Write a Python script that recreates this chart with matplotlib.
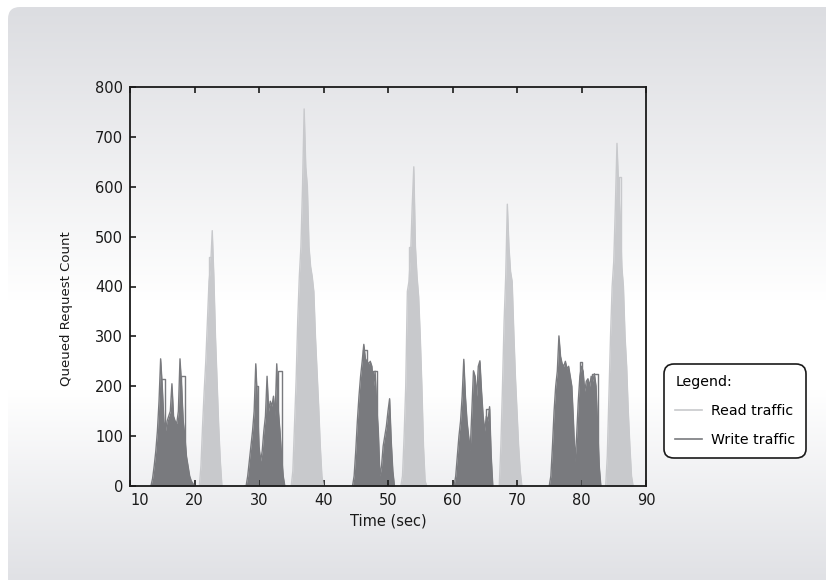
import numpy as np
import matplotlib
matplotlib.use("Agg")
from matplotlib import pyplot as plt
from matplotlib.patches import FancyBboxPatch
from matplotlib.lines import Line2D

# queued requests, sampled every 0.25 s inside each burst
bin_width = 0.25

read_start = [20.75, 35.0, 52.0, 67.25, 83.75]
read_queue = [
    [0, 40, 120, 190, 250, 330, 410, 440, 512, 420, 300, 210, 120, 50, 0],
    [0, 30, 120, 210, 330, 420, 480, 600, 756, 640, 600, 480, 440, 420, 390, 300, 230, 160, 80, 20, 0],
    [0, 20, 100, 200, 390, 410, 460, 560, 640, 480, 420, 380, 300, 200, 80, 10, 0],
    [0, 80, 200, 330, 420, 565, 480, 430, 410, 310, 220, 150, 80, 30, 0],
    [0, 60, 180, 300, 400, 450, 560, 687, 600, 540, 440, 400, 300, 240, 150, 80, 20, 0],
]

write_start = [13.25, 27.75, 44.5, 60.25, 75.0]
write_queue = [
    [0, 15, 40, 70, 110, 170, 255, 200, 130, 110, 130, 140, 150, 205, 140, 130, 125, 150, 255, 200,
     130, 100, 60, 40, 20, 10, 5, 0],
    [0, 0, 20, 50, 80, 110, 150, 245, 170, 80, 50, 70, 110, 140, 220, 150, 170, 160, 180, 140,
     245, 150, 110, 60, 20, 0],
    [0, 20, 70, 130, 180, 220, 250, 284, 255, 250, 245, 250, 240, 200, 230, 160, 110, 20, 40, 80,
     100, 120, 150, 175, 90, 30, 0],
    [0, 20, 60, 100, 130, 180, 254, 180, 130, 100, 72, 150, 231, 220, 180, 240, 251, 190, 140, 110,
     140, 130, 159, 60, 0],
    [0, 20, 80, 150, 200, 230, 301, 260, 245, 240, 250, 235, 240, 220, 200, 130, 49, 100, 170, 220,
     240, 230, 190, 210, 215, 200, 220, 210, 225, 200, 120, 40, 0],
]

# single samples from other runs that overshoot the bulk (start, end, count)
write_overshoot = [
    (14.75, 15.5, 215), (17.85, 18.5, 220), (29.5, 29.85, 200), (32.9, 33.5, 231),
    (46.2, 46.75, 273), (47.75, 48.25, 231), (65.25, 65.7, 155),
    (79.7, 80.15, 249), (81.7, 82.5, 225),
]
read_overshoot = [(22.3, 22.6, 460), (53.25, 53.5, 480), (85.75, 86.1, 620)]

read_color = "#c8c9cc"
write_color = "#797a7e"

W, H = 826, 580
fig = plt.figure(figsize=(W / 100, H / 100), dpi=100)
fig.patch.set_facecolor("white")

# gradient panel behind everything
bg = fig.add_axes([0, 0, 1, 1], zorder=-5)
bg.set_xlim(0, W)
bg.set_ylim(H, 0)
bg.axis("off")
rows = np.arange(H)
stops_y = [7, 300, 390, 580]
stops_r = [220, 255, 255, 224]
stops_g = [221, 255, 255, 225]
stops_b = [225, 255, 255, 229]
grad = np.stack([np.interp(rows, stops_y, stops_r),
                 np.interp(rows, stops_y, stops_g),
                 np.interp(rows, stops_y, stops_b)], axis=1) / 255.0
grad = np.repeat(grad[:, None, :], 2, axis=1)
panel = FancyBboxPatch((8, 7), 860, 620, boxstyle="round,pad=0,rounding_size=12",
                       transform=bg.transData, facecolor="none", edgecolor="none")
bg.add_patch(panel)
im = bg.imshow(grad, extent=[0, W, H, 0], aspect="auto", interpolation="bilinear")
im.set_clip_path(panel)

ax = fig.add_axes([130 / W, 1 - 486 / H, 516 / W, 399 / H])
ax.patch.set_alpha(0)

for t0, q in zip(read_start, read_queue):
    t = t0 + bin_width * np.arange(len(q))
    ax.fill_between(t, q, color=read_color, lw=0)
    ax.plot(t, q, color=read_color, lw=1)
for t_a, t_b, q in read_overshoot:
    ax.plot([t_a, t_a, t_b, t_b], [0, q, q, 0], color=read_color, lw=1)

for t0, q in zip(write_start, write_queue):
    t = t0 + bin_width * np.arange(len(q))
    ax.fill_between(t, q, color=write_color, lw=0)
    ax.plot(t, q, color=write_color, lw=1)
for t_a, t_b, q in write_overshoot:
    ax.plot([t_a, t_a, t_b, t_b], [0, q, q, 0], color=write_color, lw=1)

ax.set_xlim(10, 90)
ax.set_ylim(0, 800)
ax.set_xticks(range(10, 91, 10))
ax.set_yticks(range(0, 801, 100))
ax.tick_params(direction="in", length=4, width=1.2, labelsize=10.5, pad=5,
               top=True, right=False, colors="#1a1a1a")
ax.xaxis.get_major_ticks()[0].label1.set_horizontalalignment("left")
for s in ax.spines.values():
    s.set_linewidth(1.3)
    s.set_color("#1a1a1a")

ax.set_xlabel("Time (sec)", fontsize=10.5, color="#1a1a1a")
ax.set_ylabel("Queued Request Count", fontsize=9.5, color="#1a1a1a")
ax.xaxis.set_label_coords(0.5, -0.07)
ax.yaxis.set_label_coords(-0.11, 0.445)

handles = [Line2D([], [], color=read_color, lw=1.2), Line2D([], [], color=write_color, lw=1.2)]
leg = fig.legend(handles, ["Read traffic", "Write traffic"], title="Legend:",
                 loc="upper left", bbox_to_anchor=(664 / W, 1 - 364 / H),
                 fontsize=10.2, title_fontsize=10.2, alignment="left",
                 frameon=True, fancybox=True, framealpha=1, edgecolor="#1a1a1a",
                 handlelength=1.9, handletextpad=0.6, labelspacing=1.05,
                 borderpad=0.8, borderaxespad=0)
leg.get_frame().set_linewidth(1.2)
leg.get_frame().set_boxstyle("round,pad=0,rounding_size=0.7")

fig.savefig("out.png", dpi=100)
